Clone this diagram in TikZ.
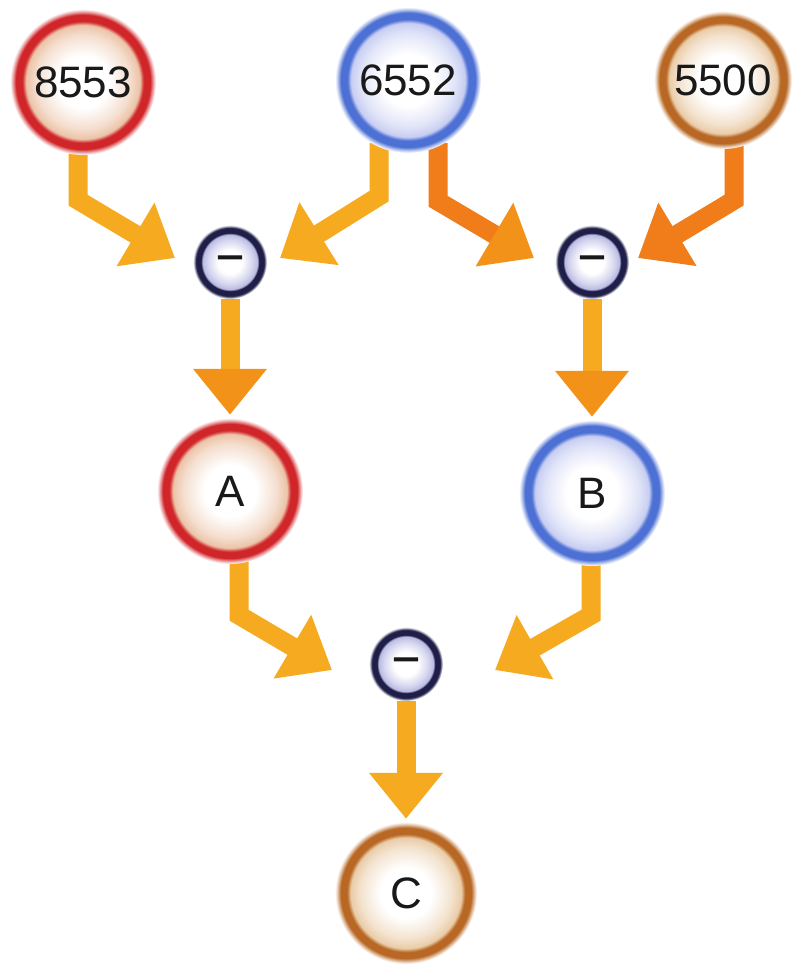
\documentclass[tikz,border=0pt]{standalone}
\usepackage{fontspec}
\setmainfont{Liberation Sans}
\newfontfamily\dashfont[FakeBold=2.5]{Liberation Sans}
\usetikzlibrary{arrows.meta,calc}
\pgfdeclarelayer{bg}
\pgfsetlayers{bg,main}
\definecolor{ringred}{RGB}{208,38,42}
\definecolor{tintred}{RGB}{236,196,168}
\definecolor{ringblue}{RGB}{76,112,212}
\definecolor{tintblue}{RGB}{200,206,242}
\definecolor{ringbrown}{RGB}{184,104,36}
\definecolor{tintbrown}{RGB}{234,204,168}
\definecolor{ringnavy}{RGB}{30,30,72}
\definecolor{tintnavy}{RGB}{186,186,228}
\definecolor{arrY}{RGB}{246,170,32}
\definecolor{arrO}{RGB}{240,124,26}
\definecolor{arrM}{RGB}{243,146,24}
\pgfdeclareradialshading{shred}{\pgfpoint{0bp}{0bp}}{color(0bp)=(white); color(9bp)=(white); color(16bp)=(tintred!55); color(19.5bp)=(tintred); color(20.8bp)=(ringred); color(23bp)=(ringred); color(24.3bp)=(ringred!30); color(25bp)=(white); color(50bp)=(white)}
\pgfdeclareradialshading{shblue}{\pgfpoint{0bp}{0bp}}{color(0bp)=(white); color(9bp)=(white); color(16bp)=(tintblue!55); color(19.5bp)=(tintblue); color(20.8bp)=(ringblue); color(23bp)=(ringblue); color(24.3bp)=(ringblue!30); color(25bp)=(white); color(50bp)=(white)}
\pgfdeclareradialshading{shbrown}{\pgfpoint{0bp}{0bp}}{color(0bp)=(white); color(9bp)=(white); color(16bp)=(tintbrown!55); color(19.5bp)=(tintbrown); color(20.8bp)=(ringbrown); color(23bp)=(ringbrown); color(24.3bp)=(ringbrown!30); color(25bp)=(white); color(50bp)=(white)}
\pgfdeclareradialshading{shnavy}{\pgfpoint{0bp}{0bp}}{color(0bp)=(white); color(8bp)=(white); color(15bp)=(tintnavy!60); color(18.6bp)=(tintnavy); color(19.6bp)=(ringnavy); color(23bp)=(ringnavy); color(24.3bp)=(ringnavy!30); color(25bp)=(white); color(50bp)=(white)}
\begin{document}
\begin{tikzpicture}[x=1pt,y=-1pt,
  bigc/.style={circle, inner sep=0pt, minimum size=146pt, shade, font=\fontsize{44}{48}\selectfont, text=black!90},
  minusc/.style={circle, inner sep=0pt, minimum size=74pt, shade, shading=shnavy, font=\dashfont\fontsize{42}{48}\selectfont, text=black!90},
  blk/.style={line width=19pt, line join=miter},
  tipY/.style={-{Triangle[width=71pt,length=46pt,color=arrY]}},
  tipM/.style={-{Triangle[width=71pt,length=46pt,color=arrM]}},
  tipO/.style={-{Triangle[width=71pt,length=46pt,color=arrO]}}]
\begin{pgfonlayer}{bg}
\fill[white] (0,0) rectangle (797,968);
\end{pgfonlayer}
\useasboundingbox (0,0) rectangle (797,968);
% value circles
\node[bigc, shading=shred] (n8553) at (83,82) {8553};
\node[bigc, shading=shblue] (n6552) at (408,80) {6552};
\node[bigc, shading=shbrown, minimum size=138pt] (n5500) at (723,80) {5500};
\node[minusc] (mL) at (230,262) {–};
\node[minusc] (mR) at (592,262) {–};
\node[bigc, shading=shred] (A) at (230,491) {A};
\node[bigc, shading=shblue] (B) at (592,493) {B};
\node[minusc] (mB) at (406,664) {–};
\node[bigc, shading=shbrown, minimum size=142pt] (C) at (406,893) {C};
% arrows
\begin{pgfonlayer}{bg}
\draw[blk, draw=arrY, tipY] ($(n8553.south)+(-5,-10)$) -- ++(0,55) -- ($(mL)+(-55,-4)$);
\draw[blk, draw=arrY, tipY] ($(n6552.south)+(-29,-10)$) -- ++(0,53) -- ($(mL)+(50,-4)$);
\draw[blk, draw=arrO, tipM] ($(n6552.south)+(30,-10)$) -- ++(0,58) -- ($(mR)+(-58,-4)$);
\draw[blk, draw=arrO, tipO] ($(n5500.south)+(11,-10)$) -- ++(0,61) -- ($(mR)+(46,-4)$);
\draw[blk, draw=arrY, tipM, shorten >=3pt] (mL) -- (A.north);
\draw[blk, draw=arrY, tipM, shorten >=3pt] (mR) -- (B.north);
\draw[blk, draw=arrY, tipY] ($(A.south)+(9,-10)$) -- ++(0,61) -- ($(mB)+(-74,6)$);
\draw[blk, draw=arrY, tipY] ($(B.south)+(-1,-10)$) -- ++(0,59) -- ($(mB)+(89,6)$);
\draw[blk, draw=arrY, tipY, shorten >=3pt] (mB) -- (C.north);
\end{pgfonlayer}
\end{tikzpicture}
\end{document}
